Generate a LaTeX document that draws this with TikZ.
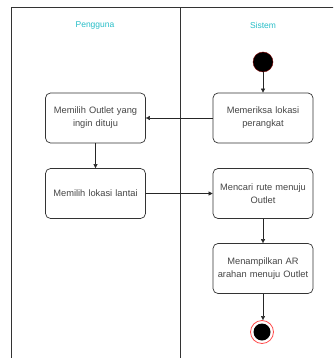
\documentclass[tikz,border=0pt]{standalone}
\usepackage{fontspec}
\setmainfont{Liberation Sans}
\usetikzlibrary{arrows.meta}
\definecolor{lane}{RGB}{40,190,200}
\definecolor{textgray}{RGB}{70,70,70}
\begin{document}
\begin{tikzpicture}[x=1pt,y=-1pt,
  act/.style={draw=black!80,line width=0.7pt,rounded corners=5pt,minimum width=100pt,minimum height=50pt,
    align=center,text width=99pt,font=\fontsize{9.3}{13}\selectfont,text=textgray,inner sep=0.5pt},
  flow/.style={draw=black!85,-{Triangle[length=4pt,width=4pt]}}]
\clip (0,0) rectangle (333,358);
\fill [white] (0,0) rectangle (333,358);
\draw [black!80,line width=1pt] (11,380)--(11,8)--(350,8);
\draw [black!80,line width=1pt] (180,8)--(180,380);
\draw (95,25) node [text=lane,font=\fontsize{8.5}{10}\selectfont] {Pengguna};
\draw (263,25) node [text=lane,font=\fontsize{8.5}{10}\selectfont] {Sistem};

\node [circle,fill=black,draw=red!50!black,minimum size=20pt,inner sep=0pt] (start) at (263,62) {};
\node [act] (periksa) at (263,118) {Memeriksa lokasi\\perangkat};
\node [act] (pilihoutlet) at (95.5,118) {Memilih Outlet yang\\ingin dituju};
\node [act] (pilihlantai) at (95.5,193.5) {Memilih lokasi lantai};
\node [act] (rute) at (263,193.5) {Mencari rute menuju\\Outlet};
\node [act] (tampil) at (263,268.5) {Menampilkan AR\\arahan menuju Outlet};
\node [circle,draw=red!70,line width=0.8pt,minimum size=23pt,inner sep=0pt] (stop) at (262,332) {};
\fill [black] (stop) circle (8.5);

\draw [flow] (start)--(periksa);
\draw [flow] (periksa)--(pilihoutlet);
\draw [flow] (pilihoutlet)--(pilihlantai);
\draw [flow] (pilihlantai)--(rute);
\draw [flow] (rute)--(tampil);
\draw [flow] (tampil.south)--(tampil.south|-stop.north);
\end{tikzpicture}
\end{document}
